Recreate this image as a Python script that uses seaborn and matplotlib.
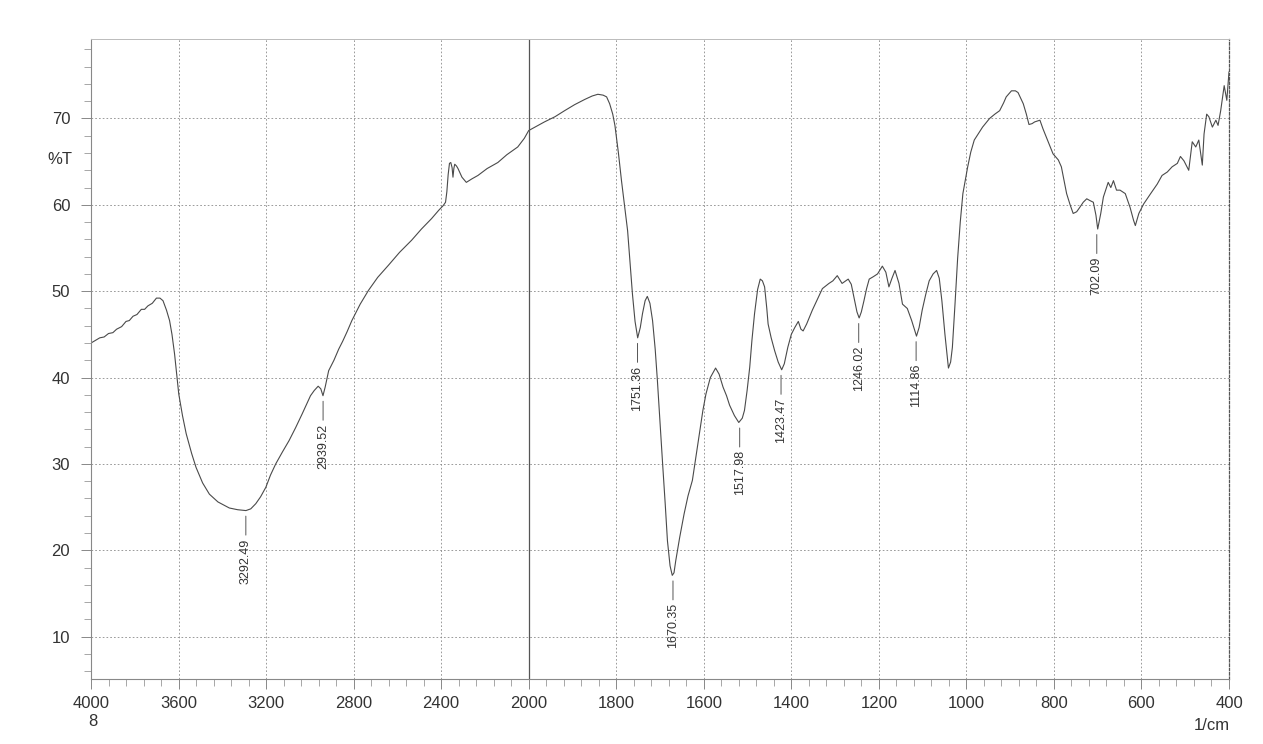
import numpy as np
import pandas as pd
import seaborn as sns
import matplotlib
matplotlib.use("Agg")
import matplotlib.pyplot as plt
from matplotlib.ticker import FixedLocator, FixedFormatter

# FTIR spectrum
wavenumber = [4000, 3980, 3960, 3940, 3920, 3900, 3883, 3860, 3840, 3825, 3808, 3790, 3770, 3755,
              3740, 3720, 3701, 3685, 3671, 3655, 3641, 3630, 3618, 3599, 3582, 3565, 3540, 3520,
              3490, 3459, 3420, 3368, 3330, 3292, 3270, 3247, 3225, 3201, 3180, 3156, 3125, 3095,
              3065, 3035, 3015, 2997, 2980, 2962, 2950, 2940, 2930, 2914, 2890, 2868, 2850, 2830,
              2808, 2770, 2732, 2690, 2641, 2590, 2535, 2490, 2444, 2410, 2391, 2380, 2374, 2368,
              2362, 2356, 2350, 2346, 2342, 2338, 2330, 2323, 2305, 2285, 2260, 2232, 2190, 2141,
              2100, 2050, 2020, 2000, 1964, 1940, 1918, 1895, 1872, 1855, 1842, 1830, 1822, 1815,
              1808, 1803, 1795, 1788, 1774, 1763, 1757, 1751, 1745, 1740, 1734, 1729, 1723, 1717,
              1711, 1706, 1700, 1694, 1688, 1683, 1677, 1672, 1668, 1664, 1655, 1645, 1636, 1626,
              1618, 1610, 1602, 1595, 1585, 1573, 1565, 1556, 1548, 1541, 1530, 1520, 1512, 1507,
              1501, 1495, 1490, 1484, 1477, 1471, 1466, 1461, 1456, 1453, 1446, 1438, 1430, 1422,
              1416, 1408, 1400, 1392, 1384, 1378, 1373, 1365, 1352, 1340, 1329, 1314, 1305, 1295,
              1284, 1270, 1263, 1257, 1250, 1245, 1240, 1234, 1228, 1222, 1212, 1203, 1192, 1184,
              1177, 1170, 1163, 1154, 1146, 1135, 1125, 1114, 1108, 1101, 1093, 1085, 1076, 1068,
              1062, 1056, 1049, 1041, 1036, 1032, 1026, 1020, 1014, 1008, 997, 990, 982, 963,
              947, 935, 924, 915, 909, 897, 888, 882, 870, 863, 857, 850, 844, 832,
              825, 817, 802, 790, 783, 771, 763, 756, 748, 741, 733, 725, 718, 710,
              704, 700, 693, 687, 676, 670, 664, 657, 649, 637, 626, 618, 614, 606,
              595, 579, 564, 553, 541, 530, 518, 511, 503, 492, 484, 476, 469, 461,
              457, 451, 446, 438, 430, 425, 419, 411, 405, 400]
transmittance = [44.0, 44.3, 44.6, 44.7, 45.1, 45.2, 45.6, 45.9, 46.5, 46.6, 47.1, 47.3, 47.9, 47.9,
                 48.3, 48.6, 49.2, 49.2, 48.9, 47.8, 46.6, 45.0, 42.7, 38.1, 35.6, 33.5, 31.2, 29.6,
                 27.8, 26.5, 25.6, 24.9, 24.7, 24.6, 24.8, 25.4, 26.2, 27.3, 28.7, 30.0, 31.4, 32.7,
                 34.2, 35.8, 36.9, 37.9, 38.5, 39.0, 38.7, 37.9, 38.9, 40.8, 42.0, 43.3, 44.2, 45.3,
                 46.6, 48.5, 50.1, 51.6, 53.0, 54.5, 55.9, 57.2, 58.4, 59.4, 59.9, 60.3, 61.5, 63.5,
                 64.8, 64.9, 64.3, 63.2, 64.2, 64.7, 64.5, 64.2, 63.2, 62.6, 63.0, 63.4, 64.2, 64.9,
                 65.8, 66.7, 67.7, 68.6, 69.6, 70.2, 70.9, 71.6, 72.2, 72.6, 72.8, 72.7, 72.5, 71.7,
                 70.5, 69.2, 66.0, 62.8, 57.0, 49.7, 46.5, 44.6, 45.8, 47.4, 48.9, 49.4, 48.6, 46.6,
                 43.3, 39.7, 34.8, 30.0, 25.3, 21.1, 18.2, 17.1, 17.4, 18.8, 21.5, 24.2, 26.3, 28.1,
                 30.8, 33.5, 36.2, 38.1, 40.0, 41.1, 40.4, 38.9, 37.9, 36.8, 35.6, 34.8, 35.3, 36.2,
                 38.5, 41.2, 44.3, 47.4, 50.2, 51.4, 51.2, 50.5, 48.0, 46.2, 44.6, 43.1, 41.8, 40.9,
                 41.6, 43.5, 45.0, 45.8, 46.5, 45.6, 45.4, 46.2, 47.8, 49.1, 50.3, 50.9, 51.2, 51.8,
                 50.9, 51.4, 50.8, 49.3, 47.6, 46.9, 47.6, 48.9, 50.3, 51.4, 51.7, 52.0, 52.9, 52.2,
                 50.5, 51.5, 52.4, 50.9, 48.5, 48.0, 46.6, 44.8, 45.8, 47.8, 49.6, 51.2, 52.0, 52.4,
                 51.5, 48.9, 45.0, 41.1, 41.8, 43.5, 48.5, 53.8, 58.0, 61.3, 64.4, 66.1, 67.5, 69.0,
                 70.0, 70.5, 70.9, 71.8, 72.5, 73.2, 73.2, 73.0, 71.7, 70.5, 69.3, 69.4, 69.6, 69.8,
                 68.8, 67.8, 65.9, 65.2, 64.4, 61.3, 60.0, 59.0, 59.2, 59.7, 60.3, 60.7, 60.5, 60.3,
                 58.8, 57.2, 59.0, 60.9, 62.6, 62.0, 62.8, 61.7, 61.7, 61.3, 59.7, 58.2, 57.6, 59.0,
                 60.1, 61.3, 62.4, 63.4, 63.8, 64.4, 64.8, 65.6, 65.1, 64.0, 67.3, 66.7, 67.5, 64.6,
                 68.2, 70.5, 70.2, 69.0, 69.8, 69.2, 70.9, 73.8, 72.1, 75.4]

peak_wn = [3292.49, 2939.52, 1751.36, 1670.35, 1517.98, 1423.47, 1246.02, 1114.86, 702.09]
peak_t = [24.6, 37.9, 44.6, 17.1, 34.8, 40.9, 46.9, 44.8, 57.2]

x_ticks = [4000, 3600, 3200, 2800, 2400, 2000, 1800, 1600, 1400, 1200, 1000, 800, 600, 400]
y_ticks = [10, 20, 30, 40, 50, 60, 70]
scale_break = 2000

df = pd.DataFrame({"wavenumber": wavenumber, "T": transmittance})


# the x axis is compressed 2:1 above 2000 1/cm
def fwd(x):
    x = np.asarray(x, dtype=float)
    return np.where(x >= scale_break, x, 2 * x - scale_break)


def inv(u):
    u = np.asarray(u, dtype=float)
    return np.where(u >= scale_break, u, (u + scale_break) / 2)


sns.set_style("white")
plt.rcParams['font.family'] = ['Liberation Sans', 'DejaVu Sans']

fig = plt.figure(figsize=(12.63, 7.44), dpi=100)
ax = fig.add_axes([91 / 1263, 1 - 679 / 744, 1138 / 1263, 640 / 744])

ax.set_xscale('function', functions=(fwd, inv))
sns.lineplot(data=df, x="wavenumber", y="T", ax=ax, color="#4a4a4a", linewidth=0.8,
             estimator=None, sort=False)
ax.set_xlim(4000, 400)
ax.set_ylim(5.1, 79.2)

ax.xaxis.set_major_locator(FixedLocator(x_ticks))
ax.xaxis.set_major_formatter(FixedFormatter([str(t) for t in x_ticks]))
minor_x = list(np.arange(4000, 2000, -80)) + list(np.arange(2000, 400, -40))
ax.xaxis.set_minor_locator(FixedLocator(minor_x))
ax.yaxis.set_major_locator(FixedLocator(y_ticks))
ax.yaxis.set_minor_locator(FixedLocator(np.arange(6, 80, 2)))

ax.grid(which='major', color='#8a8a8a', linestyle=(0, (2, 2.5)), linewidth=0.6)
ax.axvline(scale_break, color='#555555', linewidth=0.9)

ax.tick_params(axis='both', which='both', bottom=True, left=True, top=False, right=False)
ax.tick_params(axis='both', which='major', direction='out', length=7, width=0.7,
               color='#888888', labelsize=12, labelcolor='#333333')
ax.tick_params(axis='both', which='minor', direction='out', length=5, width=0.6,
               color='#999999')
ax.tick_params(axis='x', which='major', pad=5)
ax.tick_params(axis='y', which='major', pad=8)

for side in ['left', 'bottom']:
    ax.spines[side].set_color('#888888')
    ax.spines[side].set_linewidth(0.8)
ax.spines['top'].set_color('#bbbbbb')
ax.spines['top'].set_linewidth(0.7)
ax.spines['right'].set_color('#555555')
ax.spines['right'].set_linestyle((0, (2, 1.5)))
ax.spines['right'].set_linewidth(0.9)

ax.set_xlabel("")
ax.set_ylabel("")

# peak labels hanging below each minimum
for wn, t in zip(peak_wn, peak_t):
    ax.annotate(f"{wn:.2f}", xy=(wn, t), xytext=(0, -20), textcoords='offset points',
                rotation=90, ha='center', va='top', fontsize=9, color='#333333',
                arrowprops=dict(arrowstyle='-', color='#555555', lw=0.7, shrinkA=0, shrinkB=4))

fig.text(60 / 1263, 1 - 160 / 744, "%T", fontsize=12, color='#333333', ha='center', va='center')
fig.text(93 / 1263, 1 - 722 / 744, "8", fontsize=12, color='#333333', ha='center', va='center')
fig.text(1212 / 1263, 1 - 726 / 744, "1/cm", fontsize=12, color='#333333', ha='center', va='center')

fig.savefig("out.png", dpi=100, facecolor='white')
